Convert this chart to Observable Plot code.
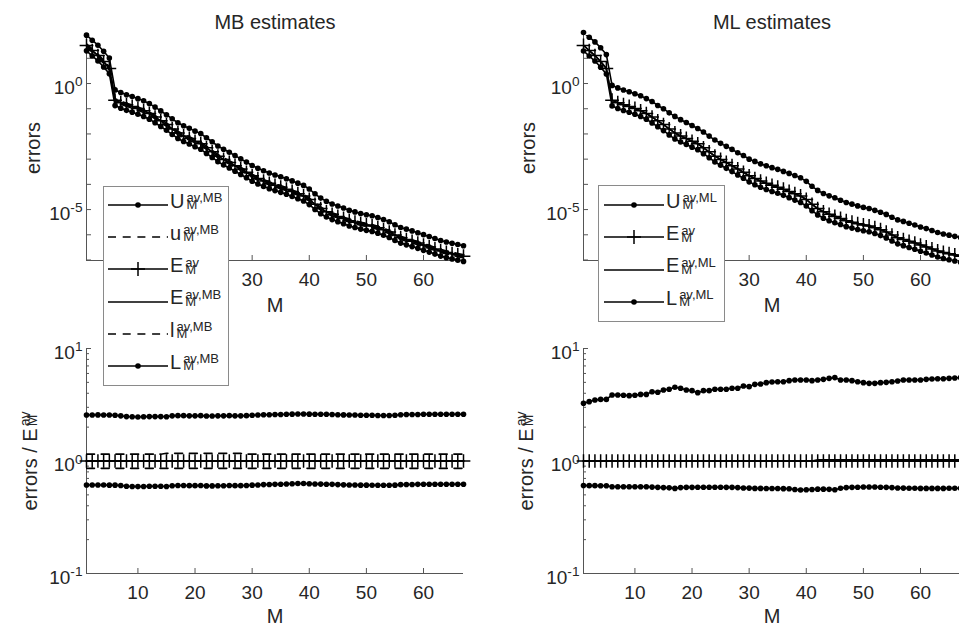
<!DOCTYPE html>
<html><head><meta charset="utf-8">
<script src="https://cdn.jsdelivr.net/npm/d3@7"></script>
<script src="https://cdn.jsdelivr.net/npm/@observablehq/plot@0.6"></script>
<style>
body{margin:0;background:#fff}
#root{position:relative;width:959px;height:626px;overflow:hidden;background:#fff;font-family:"Liberation Sans",Arial,sans-serif;color:#262626}
#root > svg{position:absolute;left:0;top:0}
.legend{position:absolute;background:#fff;border:1px solid #8a8a8a;box-sizing:border-box}
.sym{position:absolute;overflow:visible}
.lab{position:absolute;display:flex;align-items:flex-start;white-space:nowrap}
.lab .b{font-size:20px;line-height:20px}
.lab .s{display:inline-block;margin-left:2px}
.lab .s span{display:block;font-size:13px;line-height:7px}
.ylab{position:absolute;display:flex;align-items:flex-start;white-space:nowrap;transform:translate(-50%,-50%) rotate(-90deg)}
.ylab .b{font-size:20px;line-height:20px}
.ylab .s{display:inline-block;margin-left:2px}
.ylab .s span{display:block;font-size:14px;line-height:7px}
</style></head>
<body><div id="root"></div>
<script>
// ---------------- data ----------------
const M = [1,2,3,4,5,6,7,8,9,10,11,12,13,14,15,16,17,18,19,20,21,22,23,24,25,26,27,28,29,30,31,32,33,34,35,36,37,38,39,40,41,42,43,44,45,46,47,48,49,50,51,52,53,54,55,56,57,58,59,60,61,62,63,64,65,66,67];
// log10 of E^av_M
const logEav = [1.51,1.31,1.11,0.87,0.60,-0.66,-0.76,-0.84,-0.91,-0.99,
 -1.08,-1.19,-1.33,-1.48,-1.63,-1.80,-1.96,-2.08,-2.18,-2.29,
 -2.39,-2.55,-2.71,-2.88,-3.01,-3.13,-3.26,-3.39,-3.52,-3.66,
 -3.77,-3.87,-3.96,-4.04,-4.11,-4.19,-4.28,-4.37,-4.46,-4.60,
 -4.79,-4.96,-5.09,-5.19,-5.27,-5.35,-5.44,-5.50,-5.56,-5.61,
 -5.65,-5.72,-5.80,-5.89,-6.01,-6.12,-6.19,-6.26,-6.33,-6.41,
 -6.48,-6.56,-6.64,-6.70,-6.75,-6.80,-6.85];
// ratios errors / E^av_M
const ratioU_MB = [2.56,2.56,2.57,2.56,2.56,2.55,2.52,
 2.48,2.47,2.46,2.47,2.48,2.48,2.48,2.47,
 2.52,2.53,2.53,2.52,2.52,2.53,2.51,2.51,2.52,2.52,2.53,2.52,2.52,2.53,2.55,2.56,
 2.58,2.58,2.59,2.59,2.60,2.61,2.62,2.62,2.61,2.60,2.60,2.60,2.59,2.58,
 2.57,2.56,2.56,2.55,2.55,2.55,2.54,2.54,2.54,2.55,
 2.58,2.59,2.59,2.59,2.60,2.60,2.60,2.60,2.60,2.60,2.60,2.60];
const ratiou_MB = [1.15,1.15,1.15,1.15,1.15,1.15,1.15,1.15,1.15,1.15,1.15,1.15,1.15,1.15,
 1.17,1.17,1.17,1.17,1.17,1.17,1.17,1.17,1.17,1.17,1.17,1.17,1.17,1.17,
 1.15,1.15,1.15,1.15,1.15,1.15,1.15,1.15,1.15,1.15,1.15,1.15,1.15,1.15,1.15,1.15,1.15,1.15,1.15,1.15,1.15,1.15,1.15,1.15,1.15,1.15,1.15,1.15,1.15,1.15,1.15,1.15,1.15,1.15,1.15,1.15,1.15,1.15,1.15];
const ratioE_MB = [1,1,1,1,1,1,1,1,1,1,1,1,1,1,1,1,1,1,1,1,1,1,1,1,1,1,1,1,1,1,1,1,1,1,1,1,1,1,1,1,1,1,1,1,1,1,1,1,1,1,1,1,1,1,1,1,1,1,1,1,1,1,1,1,1,1,1];
const ratiol_MB = [0.86,0.86,0.86,0.86,0.86,0.86,0.86,0.86,0.86,0.86,0.86,0.86,0.86,0.86,0.86,0.86,0.86,0.86,0.86,0.86,0.86,0.86,0.86,0.86,0.86,0.86,0.86,0.86,0.86,0.86,0.86,0.86,0.86,0.86,0.86,0.86,0.86,0.86,0.86,0.86,0.86,0.86,0.86,0.86,0.86,0.86,0.86,0.86,0.86,0.86,0.86,0.86,0.86,0.86,0.86,0.86,0.86,0.86,0.86,0.86,0.86,0.86,0.86,0.86,0.86,0.86,0.86];
const ratioL_MB = [0.612,0.612,0.612,0.611,0.610,0.610,0.605,
 0.596,0.594,0.592,0.594,0.596,0.596,0.596,0.594,
 0.603,0.605,0.605,0.604,0.604,0.605,0.601,0.601,0.603,0.603,0.605,0.604,0.604,0.606,0.610,0.612,
 0.617,0.618,0.620,0.622,0.624,0.627,0.630,0.630,0.627,0.624,0.623,0.622,0.620,0.617,
 0.614,0.612,0.612,0.610,0.610,0.609,0.608,0.608,0.608,0.610,
 0.616,0.618,0.619,0.620,0.621,0.622,0.622,0.622,0.622,0.622,0.622,0.622];
const ratioU_ML = [3.26,3.37,3.48,3.53,3.53,3.86,3.86,3.84,3.81,3.84,
 3.91,3.91,4.13,4.08,4.28,4.34,4.52,4.43,4.28,4.22,
 4.05,4.22,4.22,4.34,4.34,4.34,4.43,4.43,4.64,4.58,
 4.80,4.83,4.97,5.04,5.07,5.07,5.18,5.25,5.25,5.25,
 5.18,5.25,5.32,5.43,5.51,5.25,5.25,5.18,5.07,4.97,
 4.90,4.90,4.97,5.00,5.07,5.14,5.25,5.25,5.25,5.25,
 5.32,5.36,5.39,5.39,5.43,5.47,5.51];
const ratioE_ML = [1,1,1,1,1,1,1,1,1,1,1,1,1,1,1,1,1,1,1,1,1,1,1,1,1,1,1,1,1,1,1,1,1,1,1,1,1,1,1,1,1,
 1.025,1.025,1.025,1.025,1.025,1.025,1.025,1.025,1.025,1.025,1.025,1.025,1.025,1.025,1.025,1.025,1.025,1.025,1.025,1.025,1.025,1.025,1.025,1.025,1.025,1.025];
const ratioL_ML = [0.606,0.604,0.604,0.603,0.602,
 0.591,0.591,0.591,0.591,0.591,0.591,0.591,
 0.586,0.583,0.580,0.577,0.571,
 0.580,0.583,0.583,0.585,0.585,0.585,0.585,0.585,0.583,0.583,0.580,
 0.576,0.574,0.571,0.571,0.570,0.570,0.570,0.568,0.566,
 0.558,0.552,0.555,0.558,
 0.562,0.562,0.560,0.556,
 0.572,0.580,0.583,0.585,0.587,0.587,0.587,0.585,0.583,0.580,
 0.576,0.574,0.573,0.572,0.571,0.571,0.571,0.571,0.571,0.572,0.572,0.572];
const ratioOne = ratioE_MB;

const xTicks = [10,20,30,40,50,60];
const topDecades = [1e-7,1e-6,1e-5,1e-4,1e-3,1e-2,1e-1,1,10];
const topLabels = [1e-5,1];
const botLabels = [0.1,1,10];
const botMinor = [0.2,0.3,0.4,0.5,0.6,0.7,0.8,0.9,2,3,4,5,6,7,8,9];

const titles = ["MB estimates","ML estimates"];
const legendMB = [
  {b:"U", sup:"av,MB", sub:"M", sym:"dot"},
  {b:"u", sup:"av,MB", sub:"M", sym:"dash"},
  {b:"E", sup:"av", sub:"M", sym:"plus"},
  {b:"E", sup:"av,MB", sub:"M", sym:"solid"},
  {b:"l", sup:"av,MB", sub:"M", sym:"dash"},
  {b:"L", sup:"av,MB", sub:"M", sym:"dot"}];
const legendML = [
  {b:"U", sup:"av,ML", sub:"M", sym:"dot"},
  {b:"E", sup:"av", sub:"M", sym:"plus"},
  {b:"E", sup:"av,ML", sub:"M", sym:"solid"},
  {b:"L", sup:"av,ML", sub:"M", sym:"dot"}];

// ---------------- build ----------------
const FONT = '"Liberation Sans", Arial, sans-serif';
const TXT = "#262626", AX = "#555555";
const W = 970, H = 626;
const DASH = "8,6.7";
const LW = 1.6;
const Eav = logEav.map(v => 10 ** v);
const table = ratio => M.map((m, i) => ({M: m, r: ratio[i], v: Eav[i] * ratio[i]}));

function seriesMarks(list, ykey, clip) {
  const out = [];
  for (const s of list) {
    const d = table(s.ratio);
    out.push(Plot.line(d, {x: "M", y: ykey, stroke: "black", strokeWidth: LW, strokeDasharray: s.dash ? DASH : null, clip}));
    if (s.mark === "dot") out.push(Plot.dot(d, {x: "M", y: ykey, r: 2.8, fill: "black", stroke: "none"}));
    if (s.mark === "plus") out.push(Plot.dot(d, {x: "M", y: ykey, symbol: "plus", r: 4.5, stroke: "black", strokeWidth: 1.5}));
  }
  return out;
}

function panel({left, right, top, bottom, yDomain, majors, minors, labels, title, ylab, ylabDx, mlabDy, series, ykey}) {
  const fw = right - left, fh = bottom - top;
  const marks = [
    Plot.ruleX([1], {stroke: AX, strokeWidth: 1}),
    Plot.ruleY([yDomain[0]], {stroke: AX, strokeWidth: 1}),
    Plot.tickY(majors, {y: d => d, insetRight: fw - 5, stroke: AX}),
    Plot.tickX(xTicks, {x: d => d, insetTop: fh - 5, stroke: AX}),
    Plot.axisX(xTicks, {tickSize: 0, tickPadding: 12, label: null, fill: TXT, fontSize: 19}),
    Plot.axisY(labels, {tickSize: 0, tickPadding: 4, dy: 4, label: null, fill: TXT, fontSize: 19,
      tickFormat: d => "10^" + Math.round(Math.log10(d))}),
    Plot.text(["M"], {frameAnchor: "bottom", dy: mlabDy, fontSize: 20, fill: TXT, textAnchor: "middle", lineAnchor: "middle"}),
    ...seriesMarks(series, ykey, true)
  ];
  if (minors) marks.splice(3, 0, Plot.tickY(minors, {y: d => d, insetRight: fw - 3, stroke: AX}));
  if (title) marks.push(Plot.text([title], {frameAnchor: "top", dy: -13, fontSize: 20, fill: TXT, textAnchor: "middle", lineAnchor: "middle"}));
  if (ylab) marks.push(Plot.text([ylab], {frameAnchor: "left", rotate: -90, dx: ylabDx, fontSize: 20, fill: TXT, textAnchor: "middle", lineAnchor: "middle"}));
  const svg = Plot.plot({
    width: W, height: H,
    marginLeft: left, marginRight: W - right, marginTop: top, marginBottom: H - bottom,
    style: {fontFamily: FONT, fontSize: "19px", background: "transparent", maxWidth: "none", overflow: "visible"},
    x: {domain: [1, 67]},
    y: {type: "log", domain: yDomain},
    marks
  });
  svg.querySelectorAll('[aria-label="y-axis tick label"] text').forEach(t => {
    const [b, e] = t.textContent.split("^");
    t.textContent = b;
    const ts = document.createElementNS("http://www.w3.org/2000/svg", "tspan");
    ts.setAttribute("dy", "-0.55em");
    ts.setAttribute("font-size", "0.72em");
    ts.textContent = e;
    t.appendChild(ts);
  });
  return svg;
}

const root = document.getElementById("root");
const seriesMB = [
  {ratio: ratioU_MB, mark: "dot"},
  {ratio: ratiou_MB, dash: true},
  {ratio: ratioOne, mark: "plus"},
  {ratio: ratioE_MB},
  {ratio: ratiol_MB, dash: true},
  {ratio: ratioL_MB, mark: "dot"}];
const seriesML = [
  {ratio: ratioU_ML, mark: "dot"},
  {ratio: ratioOne, mark: "plus"},
  {ratio: ratioE_ML},
  {ratio: ratioL_ML, mark: "dot"}];
const topDom = [10 ** -7.02, 10 ** 1.905];
const botDom = [0.1, 10];

root.appendChild(panel({left: 86, right: 463, top: 35, bottom: 260, yDomain: topDom, majors: topDecades, labels: topLabels,
  title: titles[0], ylab: "errors", ylabDx: -53, mlabDy: 45, series: seriesMB, ykey: "v"}));
root.appendChild(panel({left: 583, right: 960, top: 35, bottom: 260, yDomain: topDom, majors: topDecades, labels: topLabels,
  title: titles[1], ylab: "errors", ylabDx: -55, mlabDy: 45, series: seriesML, ykey: "v"}));
root.appendChild(panel({left: 86, right: 463, top: 348, bottom: 573, yDomain: botDom, majors: botLabels, minors: botMinor, labels: botLabels,
  mlabDy: 43, series: seriesMB, ykey: "r"}));
root.appendChild(panel({left: 583, right: 960, top: 348, bottom: 573, yDomain: botDom, majors: botLabels, minors: botMinor, labels: botLabels,
  mlabDy: 43, series: seriesML, ykey: "r"}));

function richLabel(cls, item, x, y, supShift) {
  const el = document.createElement("div");
  el.className = cls;
  el.style.left = x + "px"; el.style.top = y + "px";
  const b = document.createElement("span"); b.className = "b"; b.textContent = item.b;
  const s = document.createElement("span"); s.className = "s";
  const sp = document.createElement("span"); sp.textContent = item.sup; sp.style.marginTop = supShift + "px";
  const sb = document.createElement("span"); sb.textContent = item.sub;
  s.appendChild(sp); s.appendChild(sb);
  el.appendChild(b); el.appendChild(s);
  root.appendChild(el);
  return el;
}

function legend(items, box, x0, rows) {
  const lg = document.createElement("div");
  lg.className = "legend";
  Object.assign(lg.style, {left: box[0] + "px", top: box[1] + "px", width: box[2] + "px", height: box[3] + "px"});
  root.appendChild(lg);
  items.forEach((it, i) => {
    const cy = rows[i];
    const NS = "http://www.w3.org/2000/svg";
    const svg = document.createElementNS(NS, "svg");
    svg.setAttribute("class", "sym");
    svg.setAttribute("width", 60); svg.setAttribute("height", 20);
    svg.style.left = x0 + "px"; svg.style.top = (cy - 10) + "px";
    const ln = document.createElementNS(NS, "line");
    ln.setAttribute("x1", 0); ln.setAttribute("x2", 60); ln.setAttribute("y1", 10); ln.setAttribute("y2", 10);
    ln.setAttribute("stroke", "black"); ln.setAttribute("stroke-width", LW);
    if (it.sym === "dash") ln.setAttribute("stroke-dasharray", DASH);
    svg.appendChild(ln);
    if (it.sym === "dot") {
      const c = document.createElementNS(NS, "circle");
      c.setAttribute("cx", 30); c.setAttribute("cy", 10); c.setAttribute("r", 2.8);
      svg.appendChild(c);
    }
    if (it.sym === "plus") {
      const p = document.createElementNS(NS, "path");
      p.setAttribute("d", "M30,3V17M23,10H37");
      p.setAttribute("stroke", "black"); p.setAttribute("stroke-width", 1.5);
      svg.appendChild(p);
    }
    root.appendChild(svg);
    richLabel("lab", it, x0 + 62, cy - 14.3, 3.5);
  });
}

legend(legendMB, [103, 186, 126, 200], 108, [205, 237.2, 269.4, 301.6, 333.8, 366]);
legend(legendML, [598, 185, 127, 137], 604, [205, 237.3, 269.6, 301.9]);

const ylabItem = {b: "errors / E", sup: "av", sub: "M"};
richLabel("ylab", ylabItem, 30, 461, 2);
richLabel("ylab", ylabItem, 526, 461, 2);
</script></body></html>
